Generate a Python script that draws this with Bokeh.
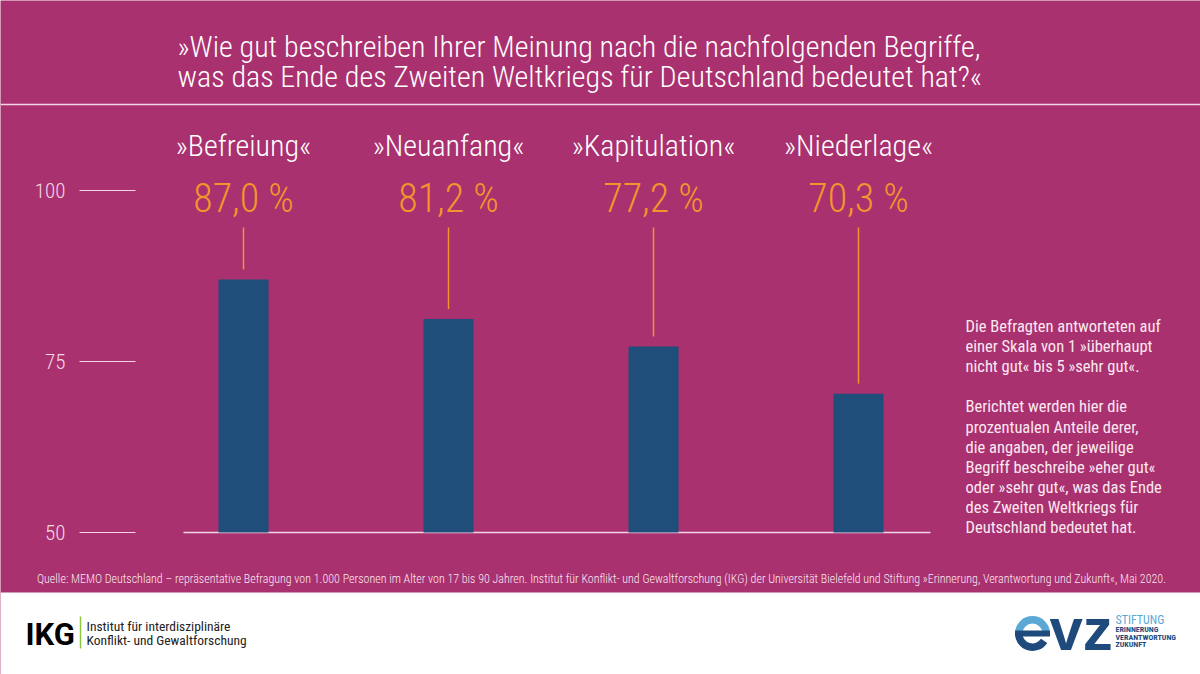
import math
from bokeh.plotting import figure
from bokeh.models import Range1d
from bokeh.core.properties import value
from bokeh.embed import file_html
from bokeh.resources import INLINE

# ---------------- data ----------------
categories = ["»Befreiung«", "»Neuanfang«", "»Kapitulation«", "»Niederlage«"]
values = [87.0, 81.2, 77.2, 70.3]
value_labels = ["87,0 %", "81,2 %", "77,2 %", "70,3 %"]
y_ticks = [50, 75, 100]
y_tick_labels = ["50", "75", "100"]
title_lines = [
    "»Wie gut beschreiben Ihrer Meinung nach die nachfolgenden Begriffe,",
    "was das Ende des Zweiten Weltkriegs für Deutschland bedeutet hat?«",
]
note_lines = [
    "Die Befragten antworteten auf",
    "einer Skala von 1 »überhaupt",
    "nicht gut« bis 5 »sehr gut«.",
    "",
    "Berichtet werden hier die",
    "prozentualen Anteile derer,",
    "die angaben, der jeweilige",
    "Begriff beschreibe »eher gut«",
    "oder »sehr gut«, was das Ende",
    "des Zweiten Weltkriegs für",
    "Deutschland bedeutet hat.",
]
source_text = ("Quelle: MEMO Deutschland – repräsentative Befragung von 1.000 Personen im Alter von 17 bis 90 Jahren. "
               "Institut für Konflikt- und Gewaltforschung (IKG) der Universität Bielefeld und Stiftung "
               "»Erinnerung, Verantwortung und Zukunft«, Mai 2020.")
ikg_lines = ["Institut für interdisziplinäre", "Konflikt- und Gewaltforschung"]
evz_lines = ["ERINNERUNG", "VERANTWORTUNG", "ZUKUNFT"]

# ---------------- layout (reference pixel geometry) ----------------
BG = "#a9316f"
BAR = "#1f4e7a"
ORANGE = "#f2952c"
PALE = "#f5d6e5"
FONT = "Roboto Condensed"
LIGHT = "Roboto Condensed Light, Roboto Condensed"
Y0_PX, Y1_PX = 532, 190          # rows of 50 and 100
YMIN, YMAX = 50, 100
PPU = (Y0_PX - Y1_PX) / (YMAX - YMIN)
X0_PX, DX_PX = 243, 205          # centre of first bar, bar spacing


def dy(py):
    return YMIN + (Y0_PX - py) / PPU


def dx(px):
    return (px - X0_PX) / DX_PX


idx = list(range(len(categories)))
n = len(idx)

p = figure(width=1200, height=674, output_backend="svg", toolbar_location=None,
           x_range=Range1d(dx(0), dx(1200)), y_range=Range1d(dy(674), dy(0)),
           x_axis_type=None, y_axis_type=None, min_border=0,
           background_fill_color=BG, border_fill_color=BG, outline_line_color=None)
p.grid.visible = False

# white footer
p.quad(left=[dx(0)], right=[dx(1200)], bottom=[dy(680)], top=[dy(592)],
       fill_color="white", line_color=None)

# title
p.text(x=[dx(177)] * 2, y=[dy(46), dy(76)], text=title_lines, text_color="white",
       text_font=value(LIGHT), text_font_size="30px", text_baseline="middle")
p.segment(x0=[dx(0)], y0=[dy(104)], x1=[dx(1200)], y1=[dy(104)],
          line_color=PALE, line_width=1.5)

# y ticks
p.segment(x0=[dx(79)] * len(y_ticks), x1=[dx(135)] * len(y_ticks), y0=y_ticks, y1=y_ticks,
          line_color=PALE, line_width=1.2)
p.text(x=[dx(65)] * len(y_ticks), y=y_ticks, text=y_tick_labels, text_color=PALE,
       text_font=value(LIGHT), text_font_size="21px", text_align="right", text_baseline="middle")

# baseline
p.segment(x0=[dx(183)], x1=[dx(930)], y0=[YMIN], y1=[YMIN], line_color=PALE, line_width=1.5)

# bars
p.vbar(x=idx, top=values, bottom=YMIN, width=50 / DX_PX, fill_color=BAR, line_color=None)

# leader lines
p.segment(x0=idx, x1=idx, y0=[dy(227)] * n, y1=[v + 10 / PPU for v in values],
          line_color=ORANGE, line_width=1.5)

# category names and value labels
p.text(x=idx, y=[dy(145)] * n, text=categories, text_color="white",
       text_font=value(LIGHT), text_font_size="30px", text_align="center", text_baseline="middle")
p.text(x=idx, y=[dy(198)] * n, text=value_labels, text_color=ORANGE,
       text_font=value(LIGHT), text_font_size="40px", text_align="center", text_baseline="middle")

# note text
note_y = [dy(326 + 20.1 * i) for i in range(len(note_lines))]
p.text(x=[dx(965)] * len(note_lines), y=note_y, text=note_lines, text_color="#fbe8f1",
       text_font=value(FONT), text_font_size="16.5px", text_baseline="middle")

# source
p.text(x=[dx(601)], y=[dy(578)], text=[source_text], text_color="#fbe8f1",
       text_font=value(LIGHT), text_font_size="12px", text_align="center", text_baseline="middle")

# IKG logo
p.text(x=[dx(25)], y=[dy(634)], text=["IKG"], text_color="black", text_font=value("Roboto"),
       text_font_style="bold", text_font_size="31px", text_baseline="middle")
p.segment(x0=[dx(80)], x1=[dx(80)], y0=[dy(616)], y1=[dy(648)], line_color="#8dc63f", line_width=1.5)
p.text(x=[dx(86)] * 2, y=[dy(625), dy(639)], text=ikg_lines, text_color="#222222",
       text_font=value(FONT), text_font_size="13.5px", text_baseline="middle")

# EVZ logo: "e" built from wedges, "vz" as text
EVZ_DARK, EVZ_LIGHT = "#1f4a7c", "#5ba8d5"
p.annular_wedge(x=[dx(1032)], y=[dy(633)], inner_radius=10, outer_radius=17.5,
                inner_radius_units="screen", outer_radius_units="screen",
                start_angle=0, end_angle=math.pi, fill_color=EVZ_LIGHT, line_color=None)
p.annular_wedge(x=[dx(1032)], y=[dy(633)], inner_radius=10, outer_radius=17.5,
                inner_radius_units="screen", outer_radius_units="screen",
                start_angle=math.pi, end_angle=1.82 * math.pi, fill_color=EVZ_DARK, line_color=None)
p.quad(left=[dx(1014.5)], right=[dx(1049.5)], top=[dy(630)], bottom=[dy(636)],
       fill_color=EVZ_DARK, line_color=None)
p.text(x=[dx(1049)], y=[dy(629)], text=["vz"], text_color=EVZ_DARK, text_font=value("Liberation Sans"),
       text_font_style="bold", text_font_size="60px", text_baseline="middle")
p.text(x=[dx(1115)], y=[dy(619)], text=["STIFTUNG"], text_color=EVZ_LIGHT,
       text_font=value(FONT), text_font_size="12px", text_baseline="middle")
p.text(x=[dx(1115)] * 3, y=[dy(629), dy(636.5), dy(644)], text=evz_lines, text_color=EVZ_DARK,
       text_font=value(FONT), text_font_style="bold", text_font_size="8px", text_baseline="middle")

open("out.html", "w").write(file_html(p, INLINE))
